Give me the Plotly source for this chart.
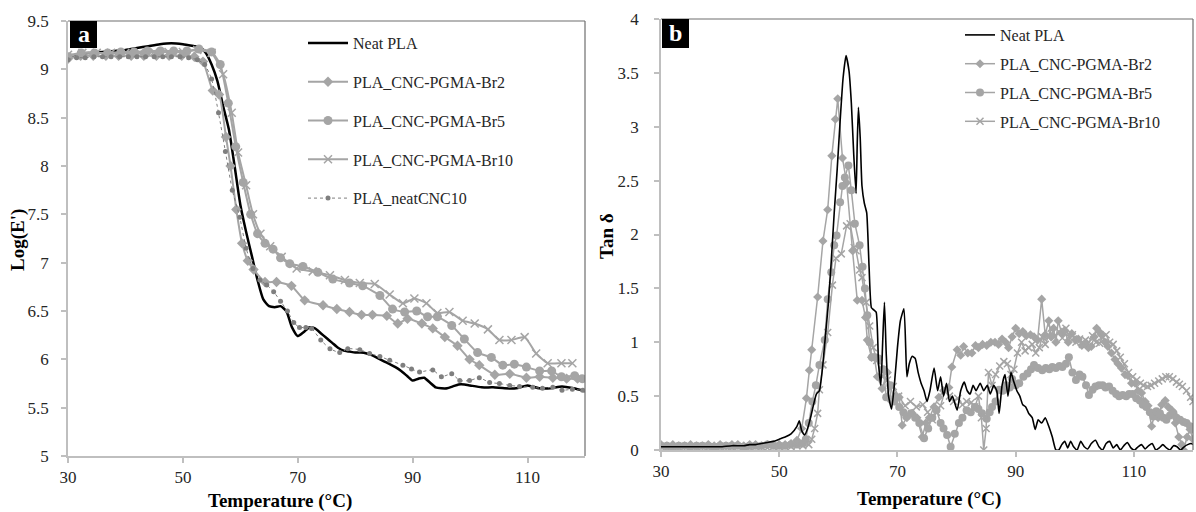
import plotly.graph_objects as go

# ---------------- Panel a : Log(E') ----------------
T_neat_a = [30, 32, 34, 36, 38, 40, 42, 44, 46, 48, 50, 52, 53, 54, 55, 56, 57, 58, 59, 60,
            61, 62, 63, 64, 65, 66, 67, 68, 69, 70, 71, 72, 73, 74, 75, 76, 77, 78, 79, 80,
            81, 82, 83, 84, 85, 86, 87, 88, 89, 90, 91, 92, 93, 94, 95, 96, 97, 98, 99, 100,
            102, 104, 106, 108, 110, 112, 114, 116, 118, 120]
E_neat_a = [9.12, 9.16, 9.17, 9.18, 9.19, 9.20, 9.22, 9.24, 9.26, 9.27, 9.26, 9.24, 9.23, 9.17, 9.05, 8.88, 8.62, 8.38, 8.00, 7.60,
            7.32, 7.07, 6.82, 6.62, 6.55, 6.54, 6.55, 6.50, 6.33, 6.24, 6.28, 6.33, 6.32, 6.27, 6.22, 6.17, 6.12, 6.09, 6.08, 6.07,
            6.07, 6.06, 6.04, 6.01, 5.98, 5.95, 5.92, 5.88, 5.83, 5.78, 5.80, 5.81, 5.76, 5.71, 5.70, 5.70, 5.72, 5.74, 5.74, 5.73,
            5.71, 5.71, 5.70, 5.70, 5.73, 5.70, 5.70, 5.72, 5.70, 5.67]

T_br2_a = [30, 32.2, 34.4, 36.6, 38.8, 41, 43.2, 45.4, 47.6, 49.8, 52, 53.5, 55.2, 56.3, 57.5, 58.3, 59.3, 60.3,
           61.3, 62.3, 64.3, 66.3, 68.9, 71.2, 74.4, 76.8, 79, 81.1, 83, 85.5, 87.4, 89.1, 91.6, 93.5, 95.6,
           97.8, 99.9, 101.6, 104.3, 106.9, 109.8, 112.1, 114.4, 116.8, 118.7]
E_br2_a = [9.11, 9.14, 9.14, 9.14, 9.14, 9.14, 9.14, 9.14, 9.14, 9.14, 9.13, 9.08, 8.78, 8.74, 8.30, 8.00, 7.55, 7.20,
           7.02, 6.93, 6.80, 6.80, 6.76, 6.61, 6.56, 6.52, 6.49, 6.46, 6.46, 6.45, 6.37, 6.42, 6.37, 6.32, 6.23,
           6.14, 6.00, 5.94, 5.84, 5.85, 5.81, 5.82, 5.81, 5.80, 5.80]

T_br5_a = [30, 32.3, 34.6, 36.9, 39.2, 41.5, 43.8, 46.1, 48.4, 50.7, 52.8, 55, 56.5, 57.9, 59.2, 60.5, 61.8, 63,
           64.3, 65.7, 67, 68.6, 70.9, 73.5, 76.1, 79, 81.3, 84.3, 86.5, 88.6, 90.7, 92.6, 94.3, 96.8, 99,
           101.3, 103.7, 105.7, 107.7, 109.8, 112.1, 114.2, 115.9, 118.2, 119.5]
E_br5_a = [9.13, 9.17, 9.17, 9.17, 9.18, 9.18, 9.19, 9.19, 9.19, 9.19, 9.21, 9.18, 9.05, 8.65, 8.20, 7.83, 7.50, 7.30,
           7.20, 7.14, 7.05, 6.99, 6.96, 6.90, 6.83, 6.79, 6.76, 6.66, 6.52, 6.49, 6.50, 6.44, 6.44, 6.35, 6.21,
           6.07, 6.02, 5.94, 5.95, 5.92, 5.88, 5.88, 5.82, 5.83, 5.80]

T_br10_a = [30, 32.5, 35, 37.5, 40, 42.5, 45, 47.5, 50, 52.5, 55, 57, 58.5, 59.6, 61, 62.2, 63.5, 65.2, 67.2,
            69.8, 72.6, 75.6, 78.2, 80.8, 83.4, 86, 88.3, 90.3, 92.4, 94.3, 96.4, 98.7, 100.8, 103.1, 105.1,
            107.2, 109.5, 111.5, 113.5, 115.9, 117.8]
E_br10_a = [9.15, 9.17, 9.17, 9.17, 9.17, 9.17, 9.18, 9.18, 9.18, 9.20, 9.17, 8.95, 8.55, 8.14, 7.80, 7.50, 7.30, 7.17, 7.06,
            6.94, 6.91, 6.87, 6.82, 6.79, 6.78, 6.67, 6.58, 6.63, 6.58, 6.48, 6.49, 6.40, 6.37, 6.31, 6.20,
            6.20, 6.23, 6.06, 5.96, 5.96, 5.96]

T_cnc_a = [30, 31.5, 33, 34.5, 36, 37.5, 39, 40.5, 42, 43.5, 45, 46.5, 48, 49.5, 51, 52.5, 53.8, 55, 56.2, 57.4,
           58.6, 59.9, 61, 62.2, 63.4, 64.6, 65.8, 67, 68.2, 69.3, 70.3, 71.4, 72.4, 74, 75.6, 77.3, 78.7,
           80.8, 82.5, 84.3, 86, 88.3, 89.8, 91.2, 93.5, 95, 96.8, 98.2, 99.9, 101.6, 103.4, 105.1, 106.9,
           108.6, 110.9, 112.6, 114.4, 116, 117.8, 119.6]
E_cnc_a = [9.10, 9.12, 9.12, 9.13, 9.13, 9.13, 9.13, 9.13, 9.13, 9.13, 9.13, 9.13, 9.13, 9.13, 9.12, 9.10, 9.05, 8.90, 8.55, 8.15,
           7.75, 7.47, 7.15, 6.94, 6.82, 6.77, 6.70, 6.60, 6.50, 6.38, 6.33, 6.33, 6.32, 6.20, 6.11, 6.07, 6.11,
           6.10, 6.06, 6.03, 5.99, 5.94, 5.90, 5.87, 5.89, 5.82, 5.85, 5.78, 5.78, 5.81, 5.76, 5.75, 5.73,
           5.72, 5.71, 5.70, 5.71, 5.68, 5.69, 5.68]

# ---------------- Panel b : Tan delta ----------------
T_neat_b = [30, 32, 34, 36, 38, 40, 42, 44, 45, 46, 47, 48, 49, 50, 51, 52, 53, 53.4, 53.8, 54.3, 54.8, 55.3,
            55.8, 56.3, 56.8, 57.3, 57.8, 58.3, 58.8, 59.3, 59.8, 60.3, 60.8, 61.3, 61.8, 62.2, 62.6, 63, 63.2,
            63.4, 63.7, 64, 64.4, 64.8, 65.2, 65.6, 66, 66.4, 66.8, 67.2, 67.5, 67.8, 68.1, 68.5, 69, 69.5, 70,
            70.5, 71.1, 71.6, 72, 72.5, 73, 73.5, 74, 74.5, 75, 75.5, 76.2, 76.8, 77.3, 77.8, 78.3, 78.8, 79.3,
            80.1, 80.7, 81.3, 81.8, 82.3, 82.8, 83.3, 84, 84.6, 85.2, 85.7, 86.3, 86.8, 87.2, 87.7, 88.2, 88.7,
            89.2, 89.7, 90.2, 90.7, 91.2, 91.7, 92.2, 92.8, 93.3, 93.8, 94.4, 95, 95.6, 96.2, 96.8, 97.3, 97.8,
            98.3, 98.8, 99.3, 99.8, 100.4, 101, 101.6, 102.2, 102.8, 103.5, 104.1, 104.7, 105.3, 105.9, 106.5,
            107.1, 107.7, 108.3, 108.9, 109.5, 110.1, 110.7, 111.3, 111.9, 112.5, 113.1, 113.7, 114.3, 114.9,
            115.5, 116.1, 116.7, 117.3, 117.9, 118.5, 119.1, 119.7, 120]
D_neat_b = [0.03, 0.03, 0.03, 0.03, 0.03, 0.03, 0.04, 0.04, 0.05, 0.05, 0.06, 0.07, 0.08, 0.10, 0.12, 0.15, 0.22, 0.27, 0.18, 0.14, 0.20, 0.30,
            0.42, 0.52, 0.55, 0.75, 1.05, 1.35, 1.75, 2.20, 2.60, 3.05, 3.45, 3.66, 3.52, 3.22, 2.75, 2.38, 2.85,
            3.18, 2.90, 2.45, 2.29, 2.20, 1.70, 1.32, 1.30, 1.28, 0.80, 0.60, 1.00, 1.37, 0.90, 0.50, 0.38, 0.62, 0.95,
            1.20, 1.31, 0.68, 0.80, 0.87, 0.85, 0.72, 0.62, 0.55, 0.45, 0.55, 0.76, 0.55, 0.68, 0.50, 0.62, 0.45, 0.50,
            0.37, 0.55, 0.63, 0.55, 0.52, 0.60, 0.55, 0.62, 0.55, 0.60, 0.52, 0.60, 0.55, 0.34, 0.60, 0.70, 0.50,
            0.72, 0.63, 0.55, 0.50, 0.42, 0.40, 0.34, 0.30, 0.19, 0.28, 0.25, 0.30, 0.22, 0.12, 0.00, 0.00, 0.05,
            0.08, 0.02, 0.08, 0.03, 0.00, 0.08, 0.03, 0.01, 0.06, 0.09, 0.03, 0.00, 0.06, 0.08, 0.02,
            0.05, 0.00, 0.04, 0.07, 0.02, 0.00, 0.03, 0.05, 0.01, 0.04, 0.06, 0.00, 0.02, 0.05,
            0.02, 0.00, 0.04, 0.03, 0.00, 0.03, 0.05, 0.06, 0.05]

T_br2_b = [30, 31, 32, 33, 34, 35, 36, 37, 38, 39, 40, 41, 42, 43, 44, 45, 46, 47, 48, 49, 50, 51, 52, 53,
           53.8, 54.6, 55.1, 55.5, 56.5, 57.4, 58.2, 58.9, 59.5, 59.9, 60.7, 61.4, 62.4, 63.2, 64, 64.6, 64.9,
           65.6, 66.1, 66.6, 67.4, 68.3, 69, 69.7, 70.3, 70.8, 71.6, 72.5, 73.3, 74.2, 74.8, 75.4, 76.2, 77,
           77.8, 78.7, 79.2, 80.1, 80.7, 81.2, 81.9, 82.6, 83.2, 83.7, 84.4, 85.1, 85.8, 86.5, 87.1, 87.7,
           88.3, 88.8, 89.4, 90, 90.6, 91.2, 91.8, 92.5, 93.1, 93.7, 94.4, 95, 95.6, 96, 96.4, 96.8, 97.2,
           97.8, 98.3, 98.9, 99.5, 100.1, 100.6, 101.2, 101.7, 102.3, 102.8, 103.3, 103.7, 104.1, 104.5,
           105.1, 105.6, 106.2, 106.8, 107.3, 107.9, 108.5, 109, 109.6, 110.2, 110.7, 111.3, 111.9, 112.4,
           113, 113.6, 114.1, 114.7, 115.3, 115.8, 116.4, 117, 117.6, 118.1, 118.4, 119, 119.5, 120]
D_br2_b = [0.05, 0.04, 0.05, 0.04, 0.04, 0.05, 0.04, 0.04, 0.05, 0.04, 0.05, 0.04, 0.05, 0.05, 0.04, 0.05, 0.05, 0.04, 0.05, 0.05, 0.05, 0.05, 0.06, 0.09,
           0.20, 0.48, 0.74, 0.93, 1.42, 1.94, 2.23, 2.73, 3.07, 3.26, 2.71, 2.48, 1.85, 1.39, 1.39, 1.23, 1.02,
           0.86, 0.86, 0.68, 0.57, 0.72, 0.45, 0.50, 0.49, 0.23, 0.30, 0.34, 0.30, 0.12, 0.25, 0.30, 0.40, 0.49,
           0.55, 0.58, 0.77, 0.93, 0.88, 0.96, 0.90, 0.90, 0.97, 0.95, 0.98, 0.97, 1.00, 1.00, 0.98, 1.03,
           1.00, 0.95, 1.05, 1.13, 1.08, 1.10, 1.06, 1.07, 1.05, 1.02, 1.40, 1.07, 1.20, 1.05, 1.13, 1.00, 1.20,
           1.08, 1.11, 1.00, 1.08, 1.02, 1.03, 0.97, 0.99, 0.95, 0.96, 1.05, 1.13, 1.10, 1.07,
           1.00, 0.96, 0.90, 0.84, 0.80, 0.76, 0.70, 0.69, 0.62, 0.62, 0.55, 0.53, 0.45, 0.41,
           0.22, 0.35, 0.30, 0.42, 0.46, 0.40, 0.37, 0.25, 0.12, 0.05, 0.00, 0.12, 0.19, 0.10]

T_br5_b = [30, 31, 32, 33, 34, 35, 36, 37, 38, 39, 40, 41, 42, 43, 44, 45, 46, 47, 48, 49, 50, 51, 52, 53, 54,
           54.5, 55, 55.6, 56.2, 56.8, 57.7, 58.2, 58.8, 59.3, 59.7, 60.3, 60.7, 61.1, 61.7, 62.2, 62.8, 63.6,
           64.1, 64.5, 64.9, 65.3, 65.7, 66.2, 66.8, 67.6, 68.1, 68.8, 69.5, 70.3, 71, 71.5, 72.3, 73, 73.7,
           74.5, 75.2, 75.9, 76.6, 77.3, 77.8, 78.4, 79, 79.7, 80.4, 81, 81.7, 82.4, 83.1, 83.7, 84.3, 85.1,
           85.6, 86, 86.6, 87.2, 87.8, 88.4, 89, 89.4, 90, 90.6, 91.3, 92, 92.6, 93.1, 93.8, 94.5, 95.1, 95.7,
           96.2, 96.8, 97.4, 97.9, 98.5, 99, 99.6, 100.2, 100.8, 101.3, 101.9, 102.4, 103, 103.5, 104.1,
           104.7, 105.2, 105.8, 106.4, 107, 107.5, 108.1, 108.7, 109.2, 109.8, 110.4, 111, 111.5, 112.1,
           112.7, 113.3, 113.8, 114.4, 115, 115.5, 116.1, 116.7, 117.2, 117.8, 118.4, 118.9, 119.5, 120]
D_br5_b = [0.04, 0.04, 0.03, 0.04, 0.04, 0.03, 0.04, 0.04, 0.04, 0.03, 0.04, 0.04, 0.04, 0.04, 0.03, 0.04, 0.04, 0.04, 0.05, 0.04, 0.04, 0.04, 0.05, 0.05, 0.06,
           0.10, 0.25, 0.45, 0.60, 0.79, 1.02, 1.40, 1.65, 1.90, 1.99, 2.30, 2.45, 2.53, 2.64, 2.41, 2.10, 1.90,
           1.70, 1.50, 1.25, 1.00, 0.86, 0.86, 0.85, 0.75, 0.49, 0.60, 0.45, 0.40, 0.35, 0.31, 0.34, 0.30, 0.25,
           0.11, 0.20, 0.30, 0.37, 0.25, 0.20, 0.14, 0.03, 0.15, 0.25, 0.30, 0.37, 0.35, 0.40, 0.38, 0.34, 0.29,
           0.35, 0.40, 0.45, 0.56, 0.55, 0.60, 0.58, 0.66, 0.60, 0.62, 0.68, 0.71, 0.75, 0.79, 0.76, 0.74, 0.76, 0.75,
           0.77, 0.76, 0.78, 0.77, 0.80, 0.86, 0.72, 0.65, 0.70, 0.68, 0.60, 0.51, 0.56, 0.59, 0.60,
           0.60, 0.58, 0.59, 0.55, 0.52, 0.50, 0.51, 0.50, 0.52, 0.52, 0.48, 0.46, 0.42, 0.40,
           0.35, 0.31, 0.36, 0.34, 0.30, 0.28, 0.32, 0.34, 0.30, 0.28, 0.26, 0.25, 0.22, 0.19]

T_br10_b = [30, 31, 32, 33, 34, 35, 36, 37, 38, 39, 40, 41, 42, 43, 44, 45, 46, 47, 48, 49, 50, 51, 52, 53, 54, 55,
            55.5, 56, 56.5, 56.8, 57.4, 58.2, 59, 59.6, 60.5, 61.4, 62, 62.7, 63, 63.6, 64, 64.7, 65.3, 65.9,
            66.5, 67.5, 68.3, 69.3, 70.2, 71.3, 72.2, 73.2, 74.3, 75.1, 75.9, 76.6, 77.3, 78.1, 78.8, 79.5, 80.2,
            81, 81.7, 82.5, 83.1, 83.7, 84.2, 84.6, 85, 85.4, 86, 86.6, 87.3, 88, 88.6, 89.2, 89.7, 90.3, 91,
            91.6, 92.2, 92.8, 93.4, 94, 94.5, 95, 95.5, 96, 96.6, 97.3, 97.9, 98.5, 99, 99.6, 100.2, 100.8,
            101.3, 101.8, 102.4, 103, 103.6, 104.2, 104.7, 105.3, 105.9, 106.5, 107.1, 107.7, 108.4, 109.1,
            109.8, 110.5, 111.1, 111.6, 112.3, 112.9, 113.5, 114.2, 114.8, 115.4, 116, 116.6, 117.2, 117.7,
            118.2, 118.9, 119.6, 120]
D_br10_b = [0.03, 0.02, 0.03, 0.02, 0.03, 0.02, 0.02, 0.03, 0.02, 0.03, 0.02, 0.03, 0.02, 0.03, 0.03, 0.02, 0.03, 0.03, 0.02, 0.03, 0.03, 0.03, 0.03, 0.04, 0.04, 0.05,
            0.10, 0.20, 0.34, 0.56, 0.79, 1.09, 1.53, 1.78, 1.82, 2.08, 2.10, 1.88, 1.85, 1.67, 1.60, 1.37, 1.15, 0.95,
            0.83, 0.68, 0.65, 0.59, 0.50, 0.41, 0.45, 0.40, 0.42, 0.35, 0.28, 0.35, 0.41, 0.56, 0.50, 0.45, 0.48,
            0.42, 0.45, 0.44, 0.40, 0.50, 0.30, 0.00, 0.20, 0.72, 0.60, 0.70, 0.78, 0.82, 0.80, 0.70, 0.75, 0.90, 1.00,
            0.92, 0.95, 0.98, 0.90, 0.95, 1.05, 0.98, 1.05, 1.13, 1.05, 1.10, 1.04, 1.13, 1.05, 1.07, 1.00, 1.03,
            0.98, 1.02, 1.00, 1.06, 1.00, 0.99, 1.05, 1.07, 1.00, 0.98, 0.92, 0.86, 0.80, 0.72,
            0.68, 0.65, 0.62, 0.60, 0.59, 0.60, 0.62, 0.64, 0.66, 0.68, 0.68, 0.66, 0.63, 0.61,
            0.59, 0.55, 0.49, 0.45]

x_ticks = [30, 50, 70, 90, 110]
names = ["Neat PLA", "PLA_CNC-PGMA-Br2", "PLA_CNC-PGMA-Br5", "PLA_CNC-PGMA-Br10", "PLA_neatCNC10"]

GRAY = "#a5a5a5"
DARK = "#7f7f7f"
FONT = "Liberation Serif"
W, H = 1196, 512

fig = go.Figure()

# panel a traces
fig.add_trace(go.Scatter(x=T_neat_a, y=E_neat_a, mode="lines", name=names[0],
                         line=dict(color="black", width=2.5, shape="spline", smoothing=0.6),
                         xaxis="x", yaxis="y", legend="legend", legendgroup="a0"))
fig.add_trace(go.Scatter(x=T_br2_a, y=E_br2_a, mode="lines+markers", name=names[1],
                         line=dict(color=GRAY, width=2, shape="spline", smoothing=0.5),
                         marker=dict(symbol="diamond", size=8, color=GRAY),
                         xaxis="x", yaxis="y", legend="legend", legendgroup="a1"))
fig.add_trace(go.Scatter(x=T_br5_a, y=E_br5_a, mode="lines+markers", name=names[2],
                         line=dict(color=GRAY, width=2, shape="spline", smoothing=0.5),
                         marker=dict(symbol="circle", size=9, color=GRAY),
                         xaxis="x", yaxis="y", legend="legend", legendgroup="a2"))
fig.add_trace(go.Scatter(x=T_br10_a, y=E_br10_a, mode="lines+markers", name=names[3],
                         line=dict(color=GRAY, width=2, shape="spline", smoothing=0.5),
                         marker=dict(symbol="x-thin", size=8, color=GRAY, line=dict(color=GRAY, width=1.5)),
                         xaxis="x", yaxis="y", legend="legend", legendgroup="a3"))
fig.add_trace(go.Scatter(x=T_cnc_a, y=E_cnc_a, mode="lines+markers", name=names[4],
                         line=dict(color=DARK, width=1, dash="dot", shape="spline", smoothing=0.5),
                         marker=dict(symbol="circle", size=5, color=DARK),
                         xaxis="x", yaxis="y", legend="legend", legendgroup="a4"))

# panel b traces
fig.add_trace(go.Scatter(x=T_br2_b, y=D_br2_b, mode="lines+markers", name=names[1],
                         line=dict(color=GRAY, width=1.5), marker=dict(symbol="diamond", size=7, color=GRAY),
                         xaxis="x2", yaxis="y2", legend="legend2", legendgroup="b1", legendrank=2))
fig.add_trace(go.Scatter(x=T_br5_b, y=D_br5_b, mode="lines+markers", name=names[2],
                         line=dict(color=GRAY, width=1.5), marker=dict(symbol="circle", size=8, color=GRAY),
                         xaxis="x2", yaxis="y2", legend="legend2", legendgroup="b2", legendrank=3))
fig.add_trace(go.Scatter(x=T_br10_b, y=D_br10_b, mode="lines+markers", name=names[3],
                         line=dict(color=GRAY, width=1.5),
                         marker=dict(symbol="x-thin", size=7, color=GRAY, line=dict(color=GRAY, width=1.5)),
                         xaxis="x2", yaxis="y2", legend="legend2", legendgroup="b3", legendrank=4))
fig.add_trace(go.Scatter(x=T_neat_b, y=D_neat_b, mode="lines", name=names[0],
                         line=dict(color="black", width=1.6, shape="spline", smoothing=0.5),
                         xaxis="x2", yaxis="y2", legend="legend2", legendgroup="b0", legendrank=1))

def px_x(p):
    return p / W

def px_y(p):
    return (H - p) / H

axis_common = dict(showgrid=False, zeroline=False, showline=True, linecolor="#bfbfbf", linewidth=1.5,
                   ticks="outside", ticklen=5, tickcolor="#bfbfbf", tickwidth=1.5, automargin=False,
                   tickfont=dict(family=FONT, size=17, color="#262626"))

fig.update_layout(
    width=W, height=H, margin=dict(l=0, r=0, t=0, b=0, autoexpand=False),
    paper_bgcolor="white", plot_bgcolor="white",
    font=dict(family=FONT, color="#262626"),
    xaxis=dict(domain=[px_x(68), px_x(585)], range=[30, 120], tickvals=x_ticks, anchor="y",
               ticklabelstandoff=0, **axis_common),
    yaxis=dict(domain=[px_y(456), px_y(21)], range=[5, 9.5], dtick=0.5, anchor="x",
               ticklabelstandoff=9, **axis_common),
    xaxis2=dict(domain=[px_x(661), px_x(1193)], range=[30, 120], tickvals=x_ticks, anchor="y2",
                ticklabelstandoff=0, **axis_common),
    yaxis2=dict(domain=[px_y(450), px_y(19)], range=[0, 4], dtick=0.5, anchor="x2",
                ticklabelstandoff=12, **axis_common),
    showlegend=True,
    legend=dict(x=px_x(303), y=px_y(26), xanchor="left", yanchor="top", bgcolor="rgba(0,0,0,0)",
                font=dict(family=FONT, size=16, color="#262626"), tracegroupgap=15, itemwidth=40),
    legend2=dict(x=px_x(960), y=px_y(18), xanchor="left", yanchor="top", bgcolor="rgba(0,0,0,0)",
                 font=dict(family=FONT, size=16, color="#262626"), tracegroupgap=5, itemwidth=30),
)

# plot borders (top / right), panel labels
for xr, yr in (("x domain", "y domain"), ("x2 domain", "y2 domain")):
    fig.add_shape(type="line", xref=xr, yref=yr, x0=0, x1=1, y0=1, y1=1, line=dict(color="#6e6e6e", width=1.2))
    fig.add_shape(type="line", xref=xr, yref=yr, x0=1, x1=1, y0=0, y1=1, line=dict(color="#6e6e6e", width=1.2))

fig.add_shape(type="rect", xref="paper", yref="paper", x0=px_x(70), x1=px_x(97), y0=px_y(48), y1=px_y(21),
              fillcolor="black", line=dict(width=0), layer="above")
fig.add_shape(type="rect", xref="paper", yref="paper", x0=px_x(662), x1=px_x(689), y0=px_y(48), y1=px_y(19),
              fillcolor="black", line=dict(width=0), layer="above")
fig.add_annotation(text="<b>a</b>", xref="paper", yref="paper", x=px_x(83.5), y=px_y(34),
                   xanchor="center", yanchor="middle", showarrow=False,
                   font=dict(family=FONT, size=24, color="white"))
fig.add_annotation(text="<b>b</b>", xref="paper", yref="paper", x=px_x(675.5), y=px_y(33),
                   xanchor="center", yanchor="middle", showarrow=False,
                   font=dict(family=FONT, size=24, color="white"))

# axis titles
title_font = dict(family=FONT, size=19, color="black")
fig.add_annotation(text="<b>Log(E')</b>", xref="paper", yref="paper", x=px_x(18), y=px_y(240), textangle=-90,
                   xanchor="center", yanchor="middle", showarrow=False, font=title_font)
fig.add_annotation(text="<b>Temperature (°C)</b>", xref="paper", yref="paper", x=px_x(280), y=px_y(501),
                   xanchor="center", yanchor="middle", showarrow=False, font=title_font)
fig.add_annotation(text="<b>Tan δ</b>", xref="paper", yref="paper", x=px_x(606), y=px_y(236), textangle=-90,
                   xanchor="center", yanchor="middle", showarrow=False, font=title_font)
fig.add_annotation(text="<b>Temperature (°C)</b>", xref="paper", yref="paper", x=px_x(929), y=px_y(499),
                   xanchor="center", yanchor="middle", showarrow=False, font=title_font)

fig.write_html("out.html", config={"displayModeBar": False},
               post_script="document.body.style.margin='0px';document.body.style.overflow='hidden';")
